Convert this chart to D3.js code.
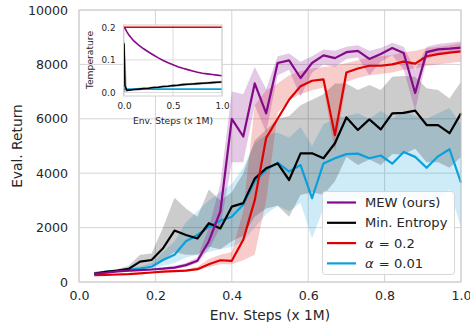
<!DOCTYPE html>
<html><head><meta charset="utf-8">
<script src="https://cdn.jsdelivr.net/npm/d3@7"></script>
<style>body{margin:0;background:#fff}svg{display:block}text{font-family:"DejaVu Sans",sans-serif;fill:#262626}</style>
</head><body><svg id="c" width="470" height="322"></svg>
<script>
// ---------- main chart data ----------
const steps = [0.04,0.07,0.10,0.13,0.16,0.19,0.22,0.25,0.28,0.31,0.34,0.37,0.40,0.43,0.46,0.49,0.52,0.55,0.58,0.61,0.64,0.67,0.70,0.73,0.76,0.79,0.82,0.85,0.88,0.91,0.94,0.97,1.00];
const mewMean = [300,340,390,420,440,460,490,530,620,780,1500,2600,6000,5350,7300,6200,8050,8150,7500,8050,8330,8230,8450,8500,8200,8380,8600,8420,6950,8450,8550,8580,8620];
const mewLow  = [260,300,350,380,400,420,450,480,560,700,1200,2000,4400,4400,6500,5500,7600,7800,6800,7700,8000,7900,8200,8250,7600,8100,8350,7800,6300,8200,8350,8400,8450];
const mewHigh = [340,380,430,460,480,500,540,590,700,900,2000,3600,7000,6900,7900,7100,8300,8400,8100,8300,8550,8500,8650,8700,8500,8600,8800,8650,7800,8650,8750,8800,8850];
const minEntMean = [300,370,420,480,750,810,1240,1890,1730,1600,2160,1970,2770,2900,3800,4180,4360,3750,4730,4730,4550,5100,6050,5590,5980,5610,6200,6220,6300,5770,5770,5470,6200];
const minEntLow  = [250,330,380,430,550,600,800,1100,1000,1000,1300,1200,1500,1700,2400,2700,2800,2400,3200,3300,3200,3700,4600,4300,4500,4300,4700,4700,4900,4400,4400,4200,4600];
const minEntHigh = [350,420,470,600,1000,1050,2000,3100,2700,2400,3400,3000,3300,4000,5200,5600,6000,6100,6500,6700,6900,7300,7300,7060,7240,7060,7550,7570,7550,7120,7060,6750,7360];
const a02Mean = [250,260,275,290,320,350,380,400,420,470,650,800,780,1550,3000,5300,6000,6700,7200,7400,7450,5400,7700,7850,7950,7950,8000,8100,8030,8300,8380,8430,8480];
const a02Low  = [220,230,245,260,290,320,350,370,390,420,550,650,650,800,1000,3000,6200,6700,6900,7050,7150,4800,7350,7500,7600,7650,7700,7800,7850,7950,8000,8050,8100];
const a02High = [280,290,305,320,350,380,410,430,460,560,850,1000,1100,2600,6500,7050,7300,7600,7750,7850,7900,7950,8050,8150,8250,8300,8350,8450,8500,8600,8650,8700,8800];
const a001Mean = [330,370,410,450,500,560,810,1000,1500,1730,2030,2250,2400,2850,3700,4120,4390,4060,4300,3080,4360,4550,4700,4720,4550,4650,4350,4780,4600,4200,4620,4880,3650];
const a001Low  = [290,330,370,400,430,480,600,700,900,1000,1100,1200,1300,1500,2000,2500,2800,2600,2900,1600,2700,2700,3000,3100,2900,3100,2800,3200,3000,2600,3000,3400,2000];
const a001High = [370,410,450,500,580,700,1100,1500,2200,2600,3000,3300,3600,4200,5100,5400,5500,5300,5700,5000,5800,6000,6100,6200,6000,6300,6000,6300,6100,6000,6200,6400,5800];
const xTicks = [0.0,0.2,0.4,0.6,0.8,1.0];
const yTicks = [0,2000,4000,6000,8000,10000];
const legendLabels = ["MEW (ours)","Min. Entropy","α=0.2","α=0.01"];
// ---------- inset data ----------
const tSteps   = [0,0.01,0.03,0.05,0.1,0.15,0.2,0.25,0.3,0.35,0.4,0.45,0.5,0.55,0.6,0.65,0.7,0.75,0.8,0.85,0.9,0.95,1.0];
const tMew     = [0.200,0.197,0.186,0.176,0.158,0.145,0.134,0.124,0.115,0.106,0.098,0.091,0.085,0.079,0.074,0.070,0.066,0.062,0.059,0.057,0.055,0.053,0.051];
const tMinEnt  = [0.150,0.020,0.006,0.007,0.009,0.010,0.012,0.013,0.015,0.016,0.018,0.019,0.021,0.022,0.024,0.025,0.026,0.027,0.028,0.029,0.030,0.031,0.032];
const tMinLow  = [0.000,0.002,0.003,0.004,0.005,0.006,0.008,0.009,0.011,0.012,0.014,0.015,0.017,0.018,0.020,0.021,0.022,0.023,0.024,0.025,0.026,0.027,0.028];
const tMinHigh = [0.160,0.150,0.010,0.010,0.012,0.014,0.016,0.017,0.019,0.020,0.022,0.023,0.025,0.026,0.028,0.029,0.030,0.031,0.032,0.033,0.034,0.035,0.036];
const tA02     = [0.2,0.2,0.2,0.2,0.2,0.2,0.2,0.2,0.2,0.2,0.2,0.2,0.2,0.2,0.2,0.2,0.2,0.2,0.2,0.2,0.2,0.2,0.2];
const tA001    = [0.01,0.01,0.01,0.01,0.01,0.01,0.01,0.01,0.01,0.01,0.01,0.01,0.01,0.01,0.01,0.01,0.01,0.01,0.01,0.01,0.01,0.01,0.01];
const tXTicks = [0.0,0.5,1.0];
const tYTicks = [0.0,0.1,0.2];

const colors = {mew:"#850a8a", ent:"#000000", a02:"#e00000", a001:"#0aa0dc"};

const svg = d3.select("#c");
const x = d3.scaleLinear().domain([0,1]).range([79,461]);
const y = d3.scaleLinear().domain([0,10000]).range([282,10]);

// grid
const g = svg.append("g");
g.selectAll(".vg").data(xTicks).enter().append("line")
 .attr("x1",d=>x(d)).attr("x2",d=>x(d)).attr("y1",10).attr("y2",282)
 .attr("stroke","#d4d4d4").attr("stroke-width",1);
g.selectAll(".hg").data(yTicks).enter().append("line")
 .attr("y1",d=>y(d)).attr("y2",d=>y(d)).attr("x1",79).attr("x2",461)
 .attr("stroke","#d4d4d4").attr("stroke-width",1);
// axes (labels only)
const xAxis = d3.axisBottom(x).tickValues(xTicks).tickFormat(d3.format(".1f")).tickSize(0).tickPadding(9);
const yAxis = d3.axisLeft(y).tickValues(yTicks).tickFormat(d=>String(d)).tickSize(0).tickPadding(11);
const xa = svg.append("g").attr("transform","translate(0,282)").call(xAxis);
const ya = svg.append("g").attr("transform","translate(79,0)").call(yAxis);
[xa,ya].forEach(a=>{a.select(".domain").remove(); a.selectAll("text").style("font-size","12.6px").attr("fill","#262626").style("font-family","DejaVu Sans");});
svg.append("text").attr("x",270).attr("y",320).attr("text-anchor","middle").style("font-size","13.8px").text("Env. Steps (x 1M)");
svg.append("text").attr("transform","translate(22,146) rotate(-90)").attr("text-anchor","middle").style("font-size","13.8px").text("Eval. Return");

// bands & lines
const series = [
 {c:colors.a001, m:a001Mean, lo:a001Low, hi:a001High, op:0.2},
 {c:colors.ent, m:minEntMean, lo:minEntLow, hi:minEntHigh, op:0.2},
 {c:colors.a02, m:a02Mean, lo:a02Low, hi:a02High, op:0.2},
 {c:colors.mew, m:mewMean, lo:mewLow, hi:mewHigh, op:0.22},
];
const area = d3.area().x((d,i)=>x(steps[i])).y0(d=>y(d[0])).y1(d=>y(d[1]));
const line = d3.line().x((d,i)=>x(steps[i])).y(d=>y(d));
series.forEach(s=>{
  svg.append("path").datum(s.lo.map((v,i)=>[v,s.hi[i]])).attr("d",area).attr("fill",s.c).attr("fill-opacity",s.op).attr("stroke","none");
});
series.forEach(s=>{
  svg.append("path").datum(s.m).attr("d",line).attr("fill","none").attr("stroke",s.c).attr("stroke-width",2.2).attr("stroke-linejoin","round");
});
// frame
svg.append("rect").attr("x",79).attr("y",10).attr("width",382).attr("height",272).attr("fill","none").attr("stroke","#cccccc").attr("stroke-width",1);

// ---------- inset ----------
const ix = d3.scaleLinear().domain([0,1]).range([124,222]);
const iy = d3.scaleLinear().domain([-0.011,0.207]).range([96,25]);
const ins = svg.append("g");
ins.append("rect").attr("x",123.5).attr("y",25).attr("width",98.5).attr("height",71).attr("fill","#fff");
ins.selectAll(".ivg").data(tXTicks).enter().append("line").attr("x1",d=>ix(d)).attr("x2",d=>ix(d)).attr("y1",25).attr("y2",96).attr("stroke","#dcdcdc");
ins.selectAll(".ihg").data(tYTicks).enter().append("line").attr("y1",d=>iy(d)).attr("y2",d=>iy(d)).attr("x1",123.5).attr("x2",222).attr("stroke","#dcdcdc");
const ixa = ins.append("g").attr("transform","translate(0,96)").call(d3.axisBottom(ix).tickValues(tXTicks).tickFormat(d3.format(".1f")).tickSize(0).tickPadding(7));
const iya = ins.append("g").attr("transform","translate(123.5,0)").call(d3.axisLeft(iy).tickValues(tYTicks).tickFormat(d3.format(".1f")).tickSize(0).tickPadding(8));
[ixa,iya].forEach(a=>{a.select(".domain").remove(); a.selectAll("text").style("font-size","8.8px").attr("fill","#333").style("font-family","DejaVu Sans");});
ins.append("text").attr("x",173).attr("y",124).attr("text-anchor","middle").style("font-size","9.2px").attr("fill","#333").text("Env. Steps (x 1M)");
ins.append("text").attr("transform","translate(93,60) rotate(-90)").attr("text-anchor","middle").style("font-size","9.2px").text("Temperature");
const iArea = d3.area().x((d,i)=>ix(tSteps[i])).y0(d=>iy(d[0])).y1(d=>iy(d[1]));
const iLine = d3.line().x((d,i)=>ix(tSteps[i])).y(d=>iy(d));
ins.append("path").datum(tMinLow.map((v,i)=>[v,tMinHigh[i]])).attr("d",iArea).attr("fill","#000").attr("fill-opacity",0.25);
[[tA001,colors.a001],[tMinEnt,colors.ent],[tA02,colors.a02],[tMew,colors.mew]].forEach(([d,c])=>{
  ins.append("path").datum(d).attr("d",iLine).attr("fill","none").attr("stroke",c).attr("stroke-width",1.6);
});
ins.append("rect").attr("x",123.5).attr("y",25).attr("width",98.5).attr("height",71).attr("fill","none").attr("stroke","#d0d0d0");

// ---------- legend ----------
const leg = svg.append("g");
leg.append("rect").attr("x",322.5).attr("y",191.5).attr("width",132).attr("height",83).attr("rx",3)
 .attr("fill","#fff").attr("fill-opacity",0.85).attr("stroke","#d6d6d6");
const legColors = [colors.mew,colors.ent,colors.a02,colors.a001];
legendLabels.forEach((lab,i)=>{
  const yy = 202.5 + i*20.3;
  leg.append("line").attr("x1",327).attr("x2",356).attr("y1",yy).attr("y2",yy).attr("stroke",legColors[i]).attr("stroke-width",2.2);
  const t = leg.append("text").attr("x",365).attr("y",yy+4.6).style("font-size","13.1px");
  if (lab.startsWith("α")) {
    t.append("tspan").style("font-style","italic").text("α");
    t.append("tspan").text(" = " + lab.split("=")[1]).attr("dx",1);
  } else t.text(lab);
});
</script></body></html>
